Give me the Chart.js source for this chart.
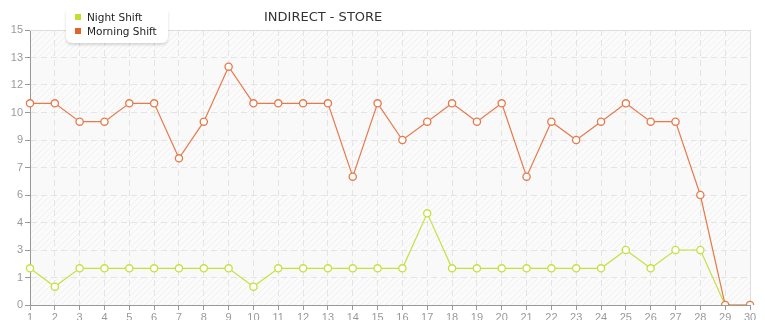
<!DOCTYPE html>
<html>
<head>
<meta charset="utf-8">
<script src="https://cdn.jsdelivr.net/npm/chart.js@4"></script>
<style>
    body { margin: 0; background: #fff; }
    #wrap { position: relative; width: 765px; height: 320px; overflow: hidden; }
    #title {
        position: absolute; left: 264px; top: 9px;
        font: 13px "DejaVu Sans", sans-serif; color: #333; white-space: nowrap;
    }
    #legend {
        position: absolute; left: 66px; top: 10px; width: 102px; height: 33px;
        background: #fff; border-radius: 0 0 6px 6px;
        box-shadow: 0 2px 3px rgba(0,0,0,0.15);
        font: 10.5px "DejaVu Sans", sans-serif; color: #222;
    }
    .item { position: absolute; left: 9px; white-space: nowrap; }
    .item i { display: inline-block; width: 6px; height: 6px; margin-right: 6px; vertical-align: 1px; }
</style>
</head>
<body>
<div id="wrap">
    <canvas id="c" width="765" height="320"></canvas>
    <div id="title">INDIRECT - STORE</div>
    <div id="legend">
        <div class="item" style="top:1px"><i style="background:#c3df2e"></i>Night Shift</div>
        <div class="item" style="top:15px"><i style="background:#e0652c"></i>Morning Shift</div>
    </div>
</div>
<script>
// data hari 1..30
const days = ['1','2','3','4','5','6','7','8','9','10','11','12','13','14','15',
              '16','17','18','19','20','21','22','23','24','25','26','27','28','29','30'];
const nightShift   = [2,1,2,2,2,2,2,2,2,1,2,2,2,2,2,2,5,2,2,2,2,2,2,2,3,2,3,3,0,0];
const morningShift = [11,11,10,10,11,11,8,10,13,11,11,11,11,7,11,9,10,11,10,11,7,10,9,10,11,10,10,6,0,0];
const yMax = 15;
const yStep = 1.5;

const labelFont = { family: 'Liberation Sans', size: 11 };

// background arsir + border tipis
const bgPlugin = {
    id: 'bg',
    beforeDraw(chart) {
        const { ctx, chartArea: a, scales } = chart;
        const p = document.createElement('canvas');
        p.width = 6; p.height = 6;
        const pc = p.getContext('2d');
        pc.strokeStyle = 'rgba(0,0,0,0.045)';
        pc.lineWidth = 1;
        pc.beginPath();
        pc.moveTo(0, 6); pc.lineTo(6, 0);
        pc.moveTo(-1, 1); pc.lineTo(1, -1);
        pc.moveTo(5, 7); pc.lineTo(7, 5);
        pc.stroke();
        ctx.save();
        ctx.fillStyle = '#fbfbfb';
        ctx.fillRect(a.left, a.top, a.right - a.left, a.bottom - a.top);
        ctx.fillStyle = ctx.createPattern(p, 'repeat');
        ctx.fillRect(a.left, a.top, a.right - a.left, a.bottom - a.top);
        // pita polos
        ctx.fillStyle = '#f9f9f9';
        [[12, 13.5], [9, 10.5], [6, 7.5], [1.5, 3]].forEach(b => {
            const y1 = scales.y.getPixelForValue(b[1]);
            const y2 = scales.y.getPixelForValue(b[0]);
            ctx.fillRect(a.left, y1, a.right - a.left, y2 - y1);
        });
        ctx.restore();
    },
    beforeDatasetsDraw(chart) {
        const { ctx, chartArea: a } = chart;
        ctx.save();
        ctx.strokeStyle = '#dddddd';
        ctx.lineWidth = 1;
        ctx.beginPath();
        ctx.moveTo(a.left, a.top + 0.5);
        ctx.lineTo(a.right + 0.5, a.top + 0.5);
        ctx.lineTo(a.right + 0.5, a.bottom);
        ctx.stroke();
        ctx.restore();
    }
};

new Chart(document.getElementById('c'), {
    type: 'line',
    data: {
        labels: days,
        datasets: [
            {
                label: 'Morning Shift',
                data: morningShift,
                borderColor: '#e8794a',
                borderWidth: 1.2,
                pointBackgroundColor: '#fff',
                pointBorderColor: '#e8794a',
                pointBorderWidth: 1.3,
                pointRadius: 3.6,
                tension: 0
            },
            {
                label: 'Night Shift',
                data: nightShift,
                borderColor: '#c6e040',
                borderWidth: 1.2,
                pointBackgroundColor: '#fff',
                pointBorderColor: '#c6e040',
                pointBorderWidth: 1.3,
                pointRadius: 3.6,
                tension: 0
            }
        ]
    },
    options: {
        responsive: false,
        animation: false,
        layout: { padding: { top: 30, right: 15, bottom: 0, left: 0 } },
        plugins: { legend: { display: false }, tooltip: { enabled: false } },
        scales: {
            x: {
                offset: false,
                grid: { color: '#e4e4e4', tickColor: '#999', tickLength: 5 },
                border: { display: true, color: '#999', width: 1, dash: [6, 4] },
                ticks: { color: '#999', font: labelFont, padding: 1, autoSkip: false, maxRotation: 0 },
                afterFit(scale) { scale.height = 15; }
            },
            y: {
                min: 0,
                max: yMax,
                grid: { color: '#e4e4e4', tickColor: '#999', tickLength: 5 },
                border: { display: true, color: '#999', width: 1, dash: [6, 4] },
                ticks: {
                    stepSize: yStep,
                    color: '#999',
                    font: labelFont,
                    padding: 2,
                    callback: v => Math.floor(v + 1e-9)
                },
                afterFit(scale) { scale.width = 30; }
            }
        }
    },
    plugins: [bgPlugin]
});
</script>
</body>
</html>
